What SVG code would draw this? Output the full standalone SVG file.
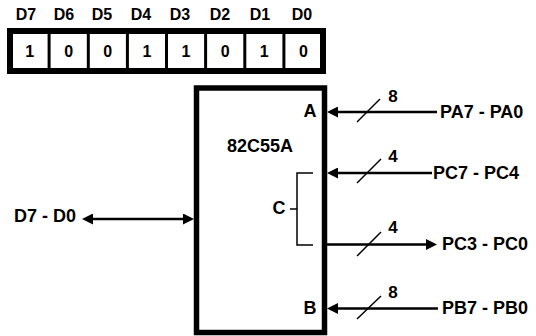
<svg xmlns="http://www.w3.org/2000/svg" width="536" height="336" viewBox="0 0 536 336">
  <style>
    text { font-family: "Liberation Sans", Arial, sans-serif; font-weight: bold; fill: #000; }
    .hdr { font-size: 16px; text-anchor: middle; }
    .bit { font-size: 16px; text-anchor: middle; }
    .lbl { font-size: 18px; }
    .port { font-size: 18px; text-anchor: middle; }
    .num { font-size: 17px; text-anchor: middle; }
    .bus { stroke: #000; stroke-width: 2.7; fill: none; }
    .thin { stroke: #000; stroke-width: 1.5; fill: none; }
  </style>
  <defs>
    <marker id="arr" viewBox="0 0 11 11" refX="6" refY="5.5" markerWidth="11" markerHeight="11" markerUnits="userSpaceOnUse" orient="auto-start-reverse">
      <path d="M0,0 L11,5.5 L0,11 Z" fill="#000"/>
    </marker>
  </defs>
  <rect width="536" height="336" fill="#fff"/>

  <g id="register">
    <g id="headers">
      <text class="hdr" x="26" y="20">D7</text>
      <text class="hdr" x="64" y="20">D6</text>
      <text class="hdr" x="102" y="20">D5</text>
      <text class="hdr" x="141" y="20">D4</text>
      <text class="hdr" x="180" y="20">D3</text>
      <text class="hdr" x="220" y="20">D2</text>
      <text class="hdr" x="260" y="20">D1</text>
      <text class="hdr" x="302" y="20">D0</text>
    </g>
    <rect x="10" y="31" width="313" height="40" fill="#fff" stroke="#000" stroke-width="6"/>
    <g stroke="#000" stroke-width="3">
      <line x1="49.1" y1="31" x2="49.1" y2="71"/>
      <line x1="88.3" y1="31" x2="88.3" y2="71"/>
      <line x1="127.4" y1="31" x2="127.4" y2="71"/>
      <line x1="166.5" y1="31" x2="166.5" y2="71"/>
      <line x1="205.6" y1="31" x2="205.6" y2="71"/>
      <line x1="244.8" y1="31" x2="244.8" y2="71"/>
      <line x1="283.9" y1="31" x2="283.9" y2="71"/>
    </g>
    <text class="bit" x="29.6" y="57">1</text>
    <text class="bit" x="68.7" y="57">0</text>
    <text class="bit" x="107.8" y="57">0</text>
    <text class="bit" x="146.9" y="57">1</text>
    <text class="bit" x="186" y="57">1</text>
    <text class="bit" x="225.2" y="57">0</text>
    <text class="bit" x="264.3" y="57">1</text>
    <text class="bit" x="303.4" y="57">0</text>
  </g>

  <g id="chip">
    <rect x="196.5" y="88" width="128" height="244.5" fill="none" stroke="#000" stroke-width="5.5"/>
    <text class="port" x="260" y="152">82C55A</text>
    <text class="port" x="310" y="117">A</text>
    <text class="port" x="310" y="313.5">B</text>
    <text class="port" x="279" y="214">C</text>
    <polyline class="thin" points="313,173 297,173 297,245 313,245"/>
    <line class="thin" x1="290" y1="209" x2="297" y2="209"/>
  </g>

  <g id="labels">
    <text class="lbl" x="14" y="221.5">D7 - D0</text>
    <text class="lbl" x="440" y="117.5">PA7 - PA0</text>
    <text class="lbl" x="433" y="178.5">PC7 - PC4</text>
    <text class="lbl" x="442" y="250">PC3 - PC0</text>
    <text class="lbl" x="442" y="314">PB7 - PB0</text>
  </g>

  <g id="connectors">
    <line class="bus" x1="87" y1="219" x2="189" y2="219" marker-start="url(#arr)" marker-end="url(#arr)"/>
    <line class="bus" x1="437" y1="112" x2="332" y2="112" marker-end="url(#arr)"/>
    <line class="bus" x1="432" y1="173" x2="332" y2="173" marker-end="url(#arr)"/>
    <line class="bus" x1="327" y1="244.5" x2="432" y2="244.5" marker-end="url(#arr)"/>
    <line class="bus" x1="438" y1="308.5" x2="332" y2="308.5" marker-end="url(#arr)"/>
    <line class="thin" x1="357" y1="122" x2="380" y2="99"/>
    <line class="thin" x1="357" y1="183" x2="381" y2="159"/>
    <line class="thin" x1="357" y1="256" x2="381" y2="232"/>
    <line class="thin" x1="357" y1="319" x2="381" y2="296"/>
    <text class="num" x="393" y="102">8</text>
    <text class="num" x="393" y="162">4</text>
    <text class="num" x="393" y="233">4</text>
    <text class="num" x="393" y="298">8</text>
  </g>
</svg>
